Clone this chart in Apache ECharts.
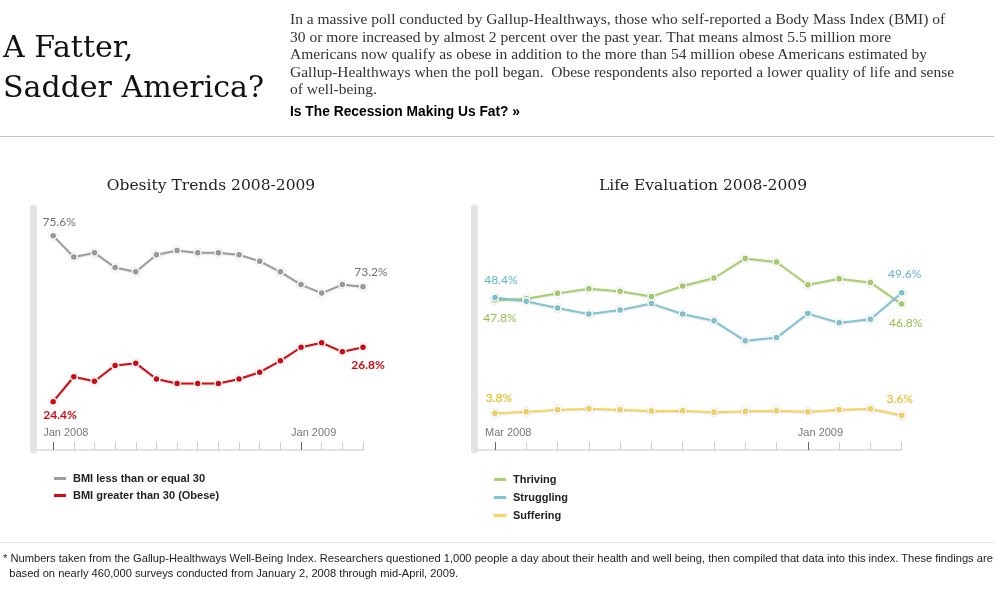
<!DOCTYPE html>
<html>
<head>
<meta charset="utf-8">
<script src="https://cdn.jsdelivr.net/npm/echarts@6/dist/echarts.min.js"></script>
<style>
  html, body { margin: 0; padding: 0; background: #fff; }
  #page { position: relative; width: 998px; height: 600px; overflow: hidden; }
  #chart { position: absolute; left: 0; top: 0; width: 998px; height: 600px; }
  .ov { position: absolute; white-space: nowrap; }
  #head { left: 3px; top: 27px; font: 30px/40px "DejaVu Serif", serif; color: #111; }
  #intro { left: 290px; top: 10px; font: 15.5px/17.6px "Liberation Serif", serif; color: #333; }
  #more { left: 290px; top: 104px; font: bold 13.8px "Liberation Sans", Arial, sans-serif; color: #000; }
  #rule1 { left: 0; top: 136px; width: 994px; height: 1px; background: #c4c4c4; }
  #rule2 { left: 0; top: 542px; width: 994px; height: 1px; background: #e4e4e4; }
  #foot { left: 3px; top: 551px; font: 11.15px/15px "Liberation Sans", Arial, sans-serif; color: #222; }
</style>
</head>
<body>
<div id="page">
  <div id="chart"></div>
  <div class="ov" id="head">A Fatter,<br>Sadder America?</div>
  <div class="ov" id="intro">In a massive poll conducted by Gallup-Healthways, those who self-reported a Body Mass Index (BMI) of<br>30 or more increased by almost 2 percent over the past year. That means almost 5.5 million more<br>Americans now qualify as obese in addition to the more than 54 million obese Americans estimated by<br>Gallup-Healthways when the poll began.&nbsp; Obese respondents also reported a lower quality of life and sense<br>of well-being.</div>
  <div class="ov" id="more">Is The Recession Making Us Fat? »</div>
  <div class="ov" id="rule1"></div>
  <div class="ov" id="rule2"></div>
  <div class="ov" id="foot">* Numbers taken from the Gallup-Healthways Well-Being Index. Researchers questioned 1,000 people a day about their health and well being, then compiled that data into this index. These findings are<br>&nbsp; based on nearly 460,000 surveys conducted from January 2, 2008 through mid-April, 2009.</div>
</div>
<script>
// left panel: Jan 2008 .. Apr 2009, monthly
const obesityMonths = ["Jan 2008", "Feb 2008", "Mar 2008", "Apr 2008", "May 2008", "Jun 2008", "Jul 2008", "Aug 2008",
  "Sep 2008", "Oct 2008", "Nov 2008", "Dec 2008", "Jan 2009", "Feb 2009", "Mar 2009", "Apr 2009"];
const bmiUnder30 = [75.6, 74.6, 74.8, 74.1, 73.9, 74.7, 74.9, 74.8, 74.8, 74.7, 74.4, 73.9, 73.3, 72.9, 73.3, 73.2];
const bmiOver30 = [24.4, 25.5, 25.3, 26.0, 26.1, 25.4, 25.2, 25.2, 25.2, 25.4, 25.7, 26.2, 26.8, 27.0, 26.6, 26.8];
const obesityTickLabels = ["Jan 2008", "Jan 2009"];

// right panel: Mar 2008 .. Apr 2009
const lifeMonths = ["Mar 2008", "Apr 2008", "May 2008", "Jun 2008", "Jul 2008", "Aug 2008", "Sep 2008", "Oct 2008",
  "Nov 2008", "Dec 2008", "Jan 2009", "Feb 2009", "Mar 2009", "Apr 2009"];
const thriving = [47.8, 48.1, 49.5, 50.6, 50.0, 48.7, 51.3, 53.3, 58.2, 57.3, 51.6, 53.1, 52.2, 46.8];
const struggling = [48.4, 47.5, 45.8, 44.3, 45.3, 46.9, 44.3, 42.6, 37.6, 38.4, 44.4, 42.1, 43.0, 49.6];
const suffering = [3.80, 3.96, 4.16, 4.26, 4.16, 4.03, 4.06, 3.90, 4.00, 4.06, 3.96, 4.16, 4.26, 3.60];
const lifeTickLabels = ["Mar 2008", "Jan 2009"];

const sans = "Arial, 'Liberation Sans', sans-serif";
const numFont = "Lato, 'Open Sans', sans-serif";

// end-point labels: [first offset, last offset], colour, weight
function points(vals, offs, color, weight) {
  const last = vals.length - 1;
  return vals.map((v, i) => {
    const item = { value: [i, v] };
    if (i === 0 || i === last) {
      item.label = {
        show: true, position: "inside", offset: i === 0 ? offs[0] : offs[1],
        formatter: p => p.value[1].toFixed(1) + "%",
        color: color, fontFamily: numFont, fontSize: 12, fontWeight: weight
      };
    }
    return item;
  });
}

function lineSeries(name, vals, color, xi, yi, offs, labColor, weight) {
  return {
    name: name, type: "line", xAxisIndex: xi, yAxisIndex: yi,
    data: points(vals, offs, labColor, weight),
    symbol: "circle", symbolSize: 7, showSymbol: true,
    lineStyle: { color: color, width: 2, shadowColor: "rgba(0,0,0,0.12)", shadowOffsetY: 1, shadowBlur: 1 },
    itemStyle: { color: color, borderColor: "#fff", borderWidth: 1.5, shadowColor: "rgba(0,0,0,0.2)", shadowBlur: 2 },
    emphasis: { disabled: true }, animation: false, z: 3
  };
}

function monthAxis(grid, min, max, n, majors, labels) {
  const light = {
    type: "value", gridIndex: grid, position: "bottom", min: min, max: max,
    axisLine: { show: true, onZero: false, lineStyle: { color: "#e2e2e2", width: 2 } },
    axisTick: { show: true, inside: true, length: 8, customValues: [...Array(n).keys()], lineStyle: { color: "#d0d0d0", width: 1 } },
    axisLabel: { show: false }, splitLine: { show: false }
  };
  const dark = {
    type: "value", gridIndex: grid, position: "bottom", min: min, max: max,
    axisLine: { show: false, onZero: false },
    axisTick: { show: true, inside: true, length: 8, customValues: majors, lineStyle: { color: "#666", width: 1 } },
    axisLabel: {
      show: true, inside: true, customValues: majors, margin: 12, align: "left", padding: [0, 0, 0, -10],
      formatter: v => labels[majors.indexOf(v)], color: "#777", fontFamily: sans, fontSize: 11
    },
    splitLine: { show: false }
  };
  return [light, dark];
}

function bandAxis(grid, min, max, showBar) {
  return {
    type: "value", gridIndex: grid, min: min, max: max, position: "left",
    axisLine: { show: showBar, onZero: false, lineStyle: { color: "#e3e3e3", width: 7 } },
    axisTick: { show: false }, axisLabel: { show: false }, splitLine: { show: false }
  };
}

const chart = echarts.init(document.getElementById("chart"), null, { renderer: "canvas" });
chart.setOption({
  animation: false,
  title: [
    { text: "Obesity Trends 2008-2009", left: 206, top: 173, textAlign: "center",
      textStyle: { fontFamily: "'DejaVu Serif', serif", fontWeight: "normal", fontSize: 15.5, color: "#222" } },
    { text: "Life Evaluation 2008-2009", left: 698, top: 173, textAlign: "center",
      textStyle: { fontFamily: "'DejaVu Serif', serif", fontWeight: "normal", fontSize: 15.5, color: "#222" } }
  ],
  grid: [
    { left: 33.5, top: 208, width: 329.5, height: 242 },
    { left: 474.5, top: 208, width: 427.2, height: 242 }
  ],
  xAxis: [
    ...monthAxis(0, -0.95, obesityMonths.length - 1, obesityMonths.length,
      obesityTickLabels.map(l => obesityMonths.indexOf(l)), obesityTickLabels),
    ...monthAxis(1, -0.655, lifeMonths.length - 1, lifeMonths.length,
      lifeTickLabels.map(l => lifeMonths.indexOf(l)), lifeTickLabels)
  ],
  yAxis: [
    bandAxis(0, 65.52, 76.90, true),
    bandAxis(0, 22.27, 32.94, false),
    bandAxis(1, 10.3, 70.8, true),
    bandAxis(1, 0.13, 24.33, false)
  ],
  legend: [
    { data: ["BMI less than or equal 30", "BMI greater than 30 (Obese)"], orient: "vertical", left: 49, top: 467,
      icon: "rect", itemWidth: 12, itemHeight: 3, itemGap: 4, itemStyle: { borderWidth: 0, shadowBlur: 0 },
      textStyle: { fontFamily: sans, fontSize: 11, fontWeight: "bold", color: "#222", lineHeight: 13, padding: [0, 0, 0, 2] },
      selectedMode: false },
    { data: ["Thriving", "Struggling", "Suffering"], orient: "vertical", left: 489, top: 468,
      icon: "rect", itemWidth: 12, itemHeight: 3, itemGap: 5, itemStyle: { borderWidth: 0, shadowBlur: 0 },
      textStyle: { fontFamily: sans, fontSize: 11, fontWeight: "bold", color: "#222", lineHeight: 13, padding: [0, 0, 0, 2] },
      selectedMode: false }
  ],
  series: [
    lineSeries("BMI less than or equal 30", bmiUnder30, "#9d9d9d", 0, 0, [[6, -14], [8, -15]], "#707070", "normal"),
    lineSeries("BMI greater than 30 (Obese)", bmiOver30, "#d40a12", 0, 1, [[7, 13], [5, 18]], "#d40a12", "bold"),
    lineSeries("Thriving", thriving, "#a7d16c", 2, 2, [[5, 18], [4, 19]], "#93c04e", "normal"),
    lineSeries("Struggling", struggling, "#7fc6d4", 2, 2, [[6, -17], [3, -19]], "#5fb5c8", "normal"),
    lineSeries("Suffering", suffering, "#f9d45f", 2, 3, [[4, -15], [-2, -16]], "#f0b100", "normal")
  ]
});
</script>
</body>
</html>
